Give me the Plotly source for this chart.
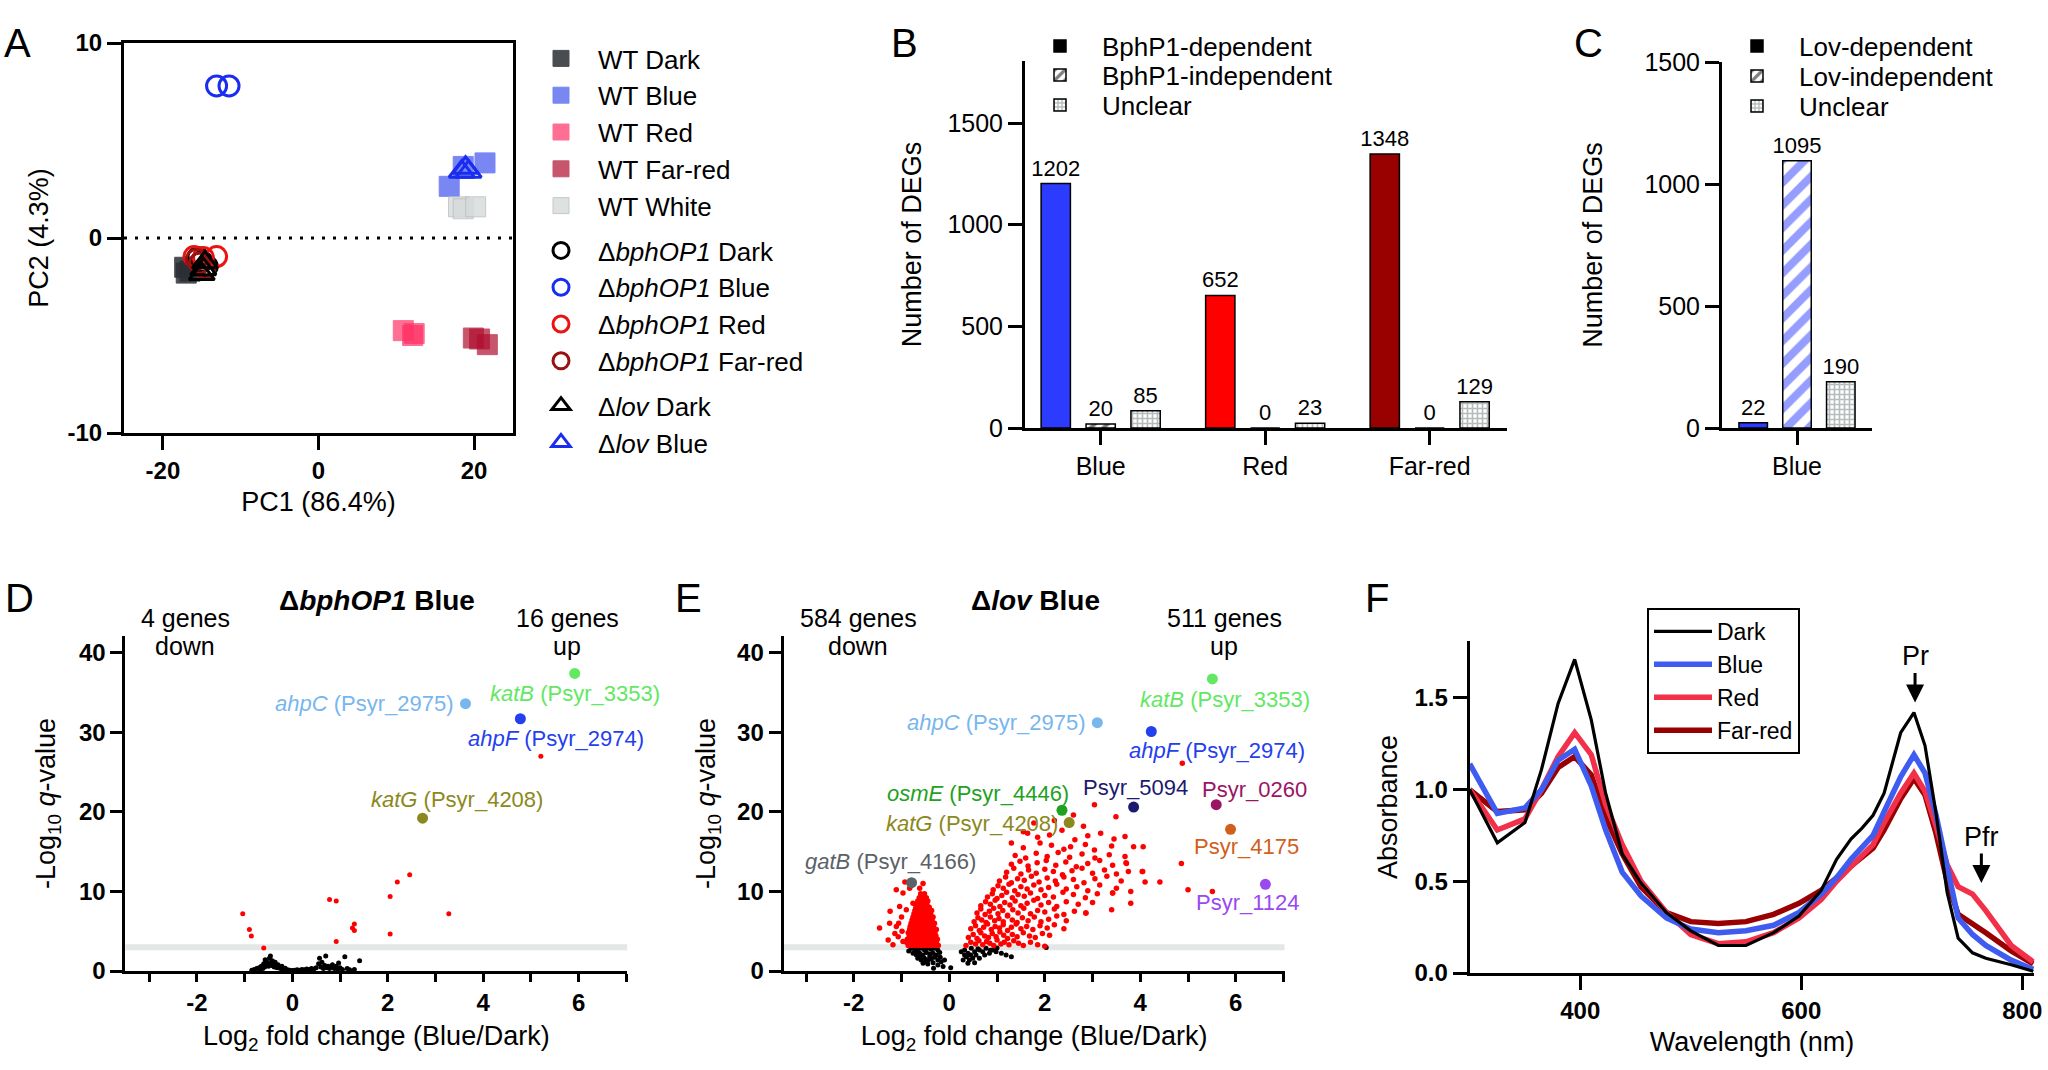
import plotly.graph_objects as go

W, H = 2048, 1070
FONT = "Liberation Sans, Arial, Helvetica, sans-serif"


def fx(p):
    return p / W


def fy(p):
    return 1 - p / H


# ---------------- Panel A : PCA ----------------
WT_DARK_X = [-17.2, -17.0, -16.5]
WT_DARK_Y = [-1.5, -1.8, -1.7]
WT_BLUE_X = [16.8, 18.6, 21.4]
WT_BLUE_Y = [2.65, 3.67, 3.85]
WT_RED_X = [10.9, 12.1, 12.3]
WT_RED_Y = [-4.75, -5.0, -4.9]
WT_FARRED_X = [19.9, 20.7, 21.7]
WT_FARRED_Y = [-5.13, -5.18, -5.47]
WT_WHITE_X = [18.0, 18.6, 20.2]
WT_WHITE_Y = [1.6, 1.5, 1.6]
BPH_DARK_X = [-15.5, -15.0, -14.3]
BPH_DARK_Y = [-1.0, -1.2, -1.45]
BPH_BLUE_X = [-13.1, -11.5]
BPH_BLUE_Y = [7.8, 7.8]
BPH_RED_X = [-16.0, -14.8, -13.1]
BPH_RED_Y = [-0.95, -1.0, -0.95]
BPH_FARRED_X = [-15.3, -14.6, -15.7]
BPH_FARRED_Y = [-1.3, -1.55, -1.1]
LOV_DARK_X = [-15.0, -14.8, -14.6]
LOV_DARK_Y = [-1.85, -1.6, -1.25]
LOV_BLUE_X = [18.4, 18.9, 19.3]
LOV_BLUE_Y = [3.4, 3.6, 3.4]
A_XTICKS = [-20, 0, 20]
A_XTICKTEXT = ["-20", "0", "20"]
A_YTICKS = [-10, 0, 10]
A_YTICKTEXT = ["-10", "0", "10"]

# ---------------- Panel B / C : DEG counts ----------------
B_CATS = ["Blue", "Red", "Far-red"]
B_DEP = [1202, 652, 1348]
B_IND = [20, 0, 0]
B_UNC = [85, 23, 129]
B_DEP_COLORS = ["#2b3cff", "#ff0000", "#990000"]
C_CATS = ["Blue"]
C_DEP = [22]
C_IND = [1095]
C_UNC = [190]

# ---------------- Panel D : ΔbphOP1 volcano ----------------
D_BLACK_X = [-0.85, -0.8, -0.75, -0.7, -0.68, -0.65, -0.62, -0.6, -0.58, -0.57, -0.55, -0.53, -0.5,
             -0.48, -0.46, -0.45, -0.43, -0.42, -0.4, -0.38, -0.36, -0.34, -0.32, -0.3, -0.28, -0.25,
             -0.22, -0.2, -0.15, -0.1, -0.05, 0.0, 0.05, 0.1, 0.15, 0.2, 0.25, 0.3, 0.35, 0.4, 0.45,
             0.5, 0.55, 0.57, 0.6, 0.62, 0.65, 0.68, 0.7, 0.72, 0.75, 0.78, 0.8, 0.84, 0.88, 0.92,
             0.95, 0.97, 1.0, 1.05, 1.1, 1.15, 1.2, 1.3, 1.41]
D_BLACK_Y = [0.1, 0.2, 0.3, 0.4, 0.2, 0.6, 0.3, 0.9, 0.5, 1.4, 0.8, 1.1, 0.6,
             1.6, 1.9, 1.0, 0.7, 1.3, 0.9, 0.5, 1.1, 0.7, 0.4, 0.8, 0.5, 0.3,
             0.6, 0.2, 0.35, 0.15, 0.1, 0.05, 0.1, 0.15, 0.1, 0.2, 0.15, 0.25, 0.2, 0.3, 0.25,
             0.4, 0.9, 1.6, 0.5, 1.1, 0.3, 0.7, 1.9, 0.4, 0.6, 0.3, 0.5, 0.8, 0.3, 0.6,
             0.2, 1.0, 0.4, 0.2, 1.8, 0.3, 0.15, 0.2, 1.3]
D_RED_X = [5.21, 2.46, 2.2, 2.05, 0.78, 0.92, 3.28, 1.3, 1.26, 1.3, 2.05, 0.92, -1.04, -0.9, -0.86, -0.6]
D_RED_Y = [27.0, 12.1, 11.2, 9.35, 9.0, 8.8, 7.2, 5.9, 5.4, 5.1, 4.65, 3.7, 7.2, 5.2, 4.4, 2.9]
D_HI_NAMES = ["katB", "ahpC", "ahpF", "katG"]
D_HI_X = [5.92, 3.63, 4.78, 2.73]
D_HI_Y = [37.4, 33.6, 31.7, 19.2]
D_LAB_TEXT = ["<i>katB</i> (Psyr_3353)", "<i>ahpC</i> (Psyr_2975)", "<i>ahpF</i> (Psyr_2974)",
              "<i>katG</i> (Psyr_4208)"]
D_LAB_X = [4.1, 3.44, 5.52, 3.45]
D_LAB_Y = [34.9, 33.6, 29.2, 21.6]
D_LAB_ANCHOR = ["left", "right", "center", "center"]
VOLC_XTICKS = [-2, 0, 2, 4, 6]
VOLC_XTICKTEXT = ["-2", "0", "2", "4", "6"]

# ---------------- Panel E : Δlov volcano ----------------
E_BLACK_X = [-0.79, -0.72, -0.66, -0.59, -0.52, -0.45, -0.38, -0.31, -0.24, -0.76, -0.69, -0.62, -0.55,
             -0.48, -0.41, -0.34, -0.27, -0.20, -0.66, -0.59, -0.52, -0.45, -0.38, -0.31, -0.24, -0.55,
             -0.45, -0.34, -0.24, -0.17, -0.13, -0.41, -0.62, -0.70, -0.10, -0.19, -0.33, -0.85, -0.80,
             -0.50,
             0.25, 0.32, 0.39, 0.46, 0.53, 0.36, 0.42, 0.49, 0.56, 0.63, 0.70, 0.77, 0.84, 0.91, 0.98,
             1.09, 1.19, 1.30, 0.29, 0.39, 0.53, 0.63, 0.32, 0.45, 0.60, 0.74, 0.86, 1.00, 0.03, 2.03]
E_BLACK_Y = [2.85, 2.64, 2.73, 2.85, 2.64, 2.85, 2.73, 2.85, 2.64, 2.22, 2.01, 2.22, 2.01,
             2.31, 2.14, 2.22, 2.01, 2.31, 1.59, 1.38, 1.59, 1.38, 1.47, 1.72, 1.38, 0.96,
             0.88, 1.05, 0.75, 1.17, 0.55, 1.80, 1.72, 2.43, 1.38, 1.72, 0.34, 2.5, 2.9,
             1.2,
             2.43, 2.64, 2.22, 2.85, 2.43, 1.80, 1.38, 1.59, 2.01, 2.64, 2.43, 2.85, 2.22, 2.64, 2.43,
             2.22, 2.01, 1.80, 1.38, 0.96, 1.05, 1.59, 2.01, 2.0, 2.8, 2.0, 2.6, 2.9, 0.4, 2.95]
E_DOWN_ROWS = [
    (3.2, [-0.86, -0.79, -0.72, -0.65, -0.58, -0.51, -0.44, -0.37, -0.30, -0.23]),
    (3.6, [-0.90, -0.83, -0.76, -0.69, -0.62, -0.55, -0.48, -0.41, -0.34, -0.27]),
    (4.0, [-0.88, -0.81, -0.74, -0.67, -0.60, -0.53, -0.46, -0.39, -0.32, -0.25]),
    (4.4, [-0.84, -0.77, -0.70, -0.63, -0.56, -0.49, -0.42, -0.35, -0.28]),
    (4.8, [-0.86, -0.79, -0.72, -0.65, -0.58, -0.51, -0.44, -0.37, -0.30]),
    (5.2, [-0.83, -0.76, -0.69, -0.62, -0.55, -0.48, -0.41, -0.34, -0.27]),
    (5.6, [-0.82, -0.75, -0.68, -0.61, -0.54, -0.47, -0.40, -0.33]),
    (6.0, [-0.80, -0.73, -0.66, -0.59, -0.52, -0.45, -0.38, -0.31]),
    (6.4, [-0.78, -0.71, -0.64, -0.57, -0.50, -0.43, -0.36]),
    (6.8, [-0.76, -0.69, -0.62, -0.55, -0.48, -0.41, -0.34]),
    (7.2, [-0.74, -0.67, -0.60, -0.53, -0.46, -0.39]),
    (7.6, [-0.72, -0.65, -0.58, -0.51, -0.44, -0.37]),
    (8.0, [-0.70, -0.63, -0.56, -0.49, -0.42]),
    (8.4, [-0.68, -0.61, -0.54, -0.47]),
    (8.8, [-0.66, -0.59, -0.52, -0.45]),
    (9.2, [-0.63, -0.55, -0.48]),
    (9.7, [-0.60, -0.52]),
]
E_DOWN_OUT_X = [-1.46, -1.25, -1.14, -1.28, -1.07, -1.04, -0.97, -0.93, -0.83, -0.55, -0.76, -0.90,
                -1.00, -1.11, -0.97, -0.62, -1.24, -1.11, -1.06, -0.99, -1.18]
E_DOWN_OUT_Y = [5.4, 6.0, 4.7, 3.9, 4.3, 8.1, 9.8, 11.2, 10.4, 11.0, 8.5, 7.7,
                6.8, 5.6, 3.7, 10.4, 7.5, 10.2, 6.0, 5.0, 3.3]
E_UP_X = [0.35, 0.45, 0.55, 0.62, 0.70, 0.78, 0.85, 0.93, 1.00, 1.08, 1.15, 1.25, 1.35, 1.45, 1.55, 1.70, 1.85, 2.00,
          0.40, 0.50, 0.58, 0.66, 0.74, 0.82, 0.90, 0.98, 1.06, 1.14, 1.22, 1.32, 1.42, 1.55, 1.68, 1.80, 1.95, 2.10,
          0.45, 0.55, 0.63, 0.72, 0.80, 0.88, 0.96, 1.05, 1.13, 1.22, 1.30, 1.40, 1.50, 1.62, 1.75, 1.90, 2.05, 2.20, 2.40,
          0.52, 0.60, 0.68, 0.77, 0.86, 0.95, 1.04, 1.13, 1.22, 1.32, 1.42, 1.53, 1.65, 1.78, 1.92, 2.08, 2.25, 2.45,
          0.58, 0.66, 0.75, 0.84, 0.93, 1.02, 1.12, 1.22, 1.33, 1.44, 1.56, 1.70, 1.85, 2.00, 2.20, 2.40, 2.62, 2.86,
          0.66, 0.76, 0.86, 0.96, 1.06, 1.16, 1.27, 1.38, 1.50, 1.63, 1.77, 1.92, 2.08, 2.25, 2.45, 2.70, 3.00,
          0.80, 0.90, 1.00, 1.10, 1.20, 1.32, 1.44, 1.57, 1.70, 1.85, 2.00, 2.18, 2.38, 2.60, 2.85, 3.10, 3.42,
          0.92, 1.02, 1.13, 1.25, 1.37, 1.50, 1.63, 1.77, 1.92, 2.08, 2.25, 2.45, 2.67, 2.90, 3.15, 3.50, 3.80,
          1.05, 1.18, 1.30, 1.43, 1.57, 1.72, 1.88, 2.05, 2.22, 2.40, 2.60, 2.82, 3.05, 3.30, 3.60, 4.10,
          1.20, 1.35, 1.50, 1.66, 1.82, 2.00, 2.18, 2.37, 2.57, 2.78, 3.00, 3.25, 3.50, 3.75, 4.05,
          1.30, 1.48, 1.65, 1.84, 2.03, 2.23, 2.44, 2.66, 2.90, 3.15, 3.42, 3.70, 4.86,
          1.38, 1.60, 1.82, 2.05, 2.28, 2.52, 2.78, 3.05, 3.35, 3.68,
          1.30, 1.55, 1.90, 2.14, 2.40, 2.54, 2.85, 3.04, 3.40, 3.86, 4.06,
          1.55, 1.64, 1.85, 2.10, 2.36, 2.63, 2.90, 3.17, 3.45, 3.68,
          1.77, 2.20, 2.81, 3.04, 3.49, 2.60,
          4.88, 4.41, 5.00, 5.51, 4.04, 3.80, 3.40, 3.71, 3.42, 2.86]
E_UP_Y = [3.2, 3.6, 3.4, 3.8, 3.3, 3.7, 3.5, 3.2, 3.9, 3.4, 3.6, 3.3, 3.8, 3.5, 3.2, 3.6, 3.3, 3.1,
          4.2, 4.6, 4.1, 4.8, 4.4, 4.2, 4.7, 4.3, 4.9, 4.5, 4.1, 4.6, 4.3, 4.8, 4.4, 4.2, 4.7, 4.5,
          5.3, 5.7, 5.1, 5.5, 5.9, 5.2, 5.6, 5.4, 5.8, 5.1, 5.5, 5.9, 5.3, 5.6, 5.2, 5.7, 5.4, 5.8, 5.3,
          6.2, 6.7, 6.4, 6.1, 6.8, 6.3, 6.6, 6.2, 6.9, 6.4, 6.1, 6.7, 6.3, 6.8, 6.2, 6.5, 6.9, 6.3,
          7.3, 7.8, 7.1, 7.5, 7.9, 7.2, 7.6, 7.0, 7.7, 7.3, 7.9, 7.2, 7.6, 7.4, 7.8, 7.1, 7.5, 7.3,
          8.2, 8.7, 8.4, 8.9, 8.1, 8.6, 8.3, 8.8, 8.2, 8.5, 8.9, 8.3, 8.6, 8.1, 8.7, 8.4, 8.6,
          9.3, 9.7, 9.1, 9.5, 9.9, 9.2, 9.6, 9.4, 9.8, 9.1, 9.5, 9.3, 9.9, 9.6, 9.2, 9.7, 9.8,
          10.2, 10.7, 10.4, 10.9, 10.1, 10.6, 10.3, 10.8, 10.2, 10.5, 10.9, 10.3, 10.6, 10.1, 10.8, 10.4, 10.0,
          11.3, 11.8, 11.1, 11.6, 11.4, 11.9, 11.2, 11.7, 11.3, 11.8, 11.5, 11.1, 11.6, 11.9, 11.3, 11.2,
          12.4, 12.9, 12.2, 12.7, 12.3, 12.8, 12.5, 12.1, 12.6, 12.9, 12.3, 12.7, 12.2, 12.5, 12.5,
          13.4, 13.8, 13.2, 13.6, 13.9, 13.3, 13.7, 13.1, 13.5, 13.9, 13.3, 13.6, 13.5,
          14.5, 14.2, 14.8, 14.4, 14.9, 14.3, 14.7, 14.2, 14.6, 14.4,
          16.1, 15.5, 16.1, 15.8, 15.3, 15.6, 15.9, 15.2, 15.7, 15.6, 15.6,
          17.5, 17.3, 16.8, 17.1, 17.7, 16.5, 17.0, 17.3, 16.6, 16.9,
          18.6, 18.9, 18.2, 20.9, 19.4, 19.6,
          26.1, 11.2, 10.2, 10.0, 12.5, 8.5, 7.7, 13.5, 9.8, 7.3]
E_HI_NAMES = ["katB", "ahpC", "ahpF", "Psyr_5094", "Psyr_0260", "Psyr_4175", "Psyr_1124", "osmE", "katG", "gatB"]
E_HI_X = [5.51, 3.10, 4.23, 3.86, 5.59, 5.89, 6.62, 2.36, 2.51, -0.79]
E_HI_Y = [36.7, 31.2, 30.1, 20.6, 20.9, 17.8, 10.9, 20.2, 18.65, 11.1]
E_LAB_TEXT = ["<i>katB</i> (Psyr_3353)", "<i>ahpC</i> (Psyr_2975)", "<i>ahpF</i> (Psyr_2974)", "Psyr_5094",
              "Psyr_0260", "Psyr_4175", "Psyr_1124", "<i>osmE</i> (Psyr_4446)", "<i>katG</i> (Psyr_4208)",
              "<i>gatB</i> (Psyr_4166)"]
E_LAB_X = [5.78, 2.90, 5.60, 3.90, 6.39, 6.23, 6.25, 0.61, 0.47, -1.24]
E_LAB_Y = [34.1, 31.2, 27.7, 23.0, 22.85, 15.6, 8.6, 22.35, 18.6, 13.75]
E_LAB_ANCHOR = ["center", "right", "center", "center", "center", "center", "center", "center", "center", "center"]

GENE_COLORS = {"katB": "#62e862", "ahpC": "#78b6ee", "ahpF": "#2440ee", "katG": "#8c8820",
               "osmE": "#1fa21f", "gatB": "#5b6168", "Psyr_5094": "#1c1a70", "Psyr_0260": "#9c1464",
               "Psyr_4175": "#d0601c", "Psyr_1124": "#9a48f0"}

# ---------------- Panel F : spectra ----------------
WL = [300, 325, 350, 365, 380, 395, 410, 423, 438, 455, 478, 500, 525, 550, 575, 598, 618, 632, 645, 655,
      665, 675, 690, 702, 712, 722, 732, 742, 755, 767, 790, 810]
ABS_DARK = [1.00, 0.71, 0.82, 1.11, 1.47, 1.71, 1.38, 0.98, 0.65, 0.49, 0.33, 0.23, 0.15, 0.15, 0.22, 0.31,
            0.45, 0.62, 0.73, 0.79, 0.86, 0.98, 1.31, 1.42, 1.24, 0.87, 0.44, 0.19, 0.11, 0.08, 0.045, 0.01]
ABS_BLUE = [1.14, 0.87, 0.90, 1.00, 1.16, 1.22, 1.02, 0.78, 0.55, 0.42, 0.30, 0.24, 0.22, 0.23, 0.26, 0.33,
            0.43, 0.52, 0.62, 0.68, 0.75, 0.88, 1.07, 1.19, 1.09, 0.86, 0.57, 0.30, 0.21, 0.15, 0.07, 0.02]
ABS_RED = [1.00, 0.78, 0.84, 1.00, 1.18, 1.31, 1.19, 0.92, 0.70, 0.50, 0.33, 0.21, 0.16, 0.17, 0.22, 0.30,
           0.40, 0.50, 0.58, 0.64, 0.70, 0.82, 0.98, 1.09, 0.99, 0.80, 0.59, 0.47, 0.43, 0.34, 0.15, 0.06]
ABS_FARRED = [1.00, 0.88, 0.89, 0.98, 1.12, 1.18, 1.08, 0.85, 0.65, 0.47, 0.33, 0.28, 0.27, 0.28, 0.32, 0.38,
              0.45, 0.52, 0.58, 0.63, 0.68, 0.78, 0.95, 1.06, 0.97, 0.76, 0.50, 0.32, 0.27, 0.22, 0.12, 0.05]

fig = go.Figure()

# ---- A traces ----
A_STYLE = [
    ("WT Dark", WT_DARK_X, WT_DARK_Y, "square", "#2a2f35", 0.85, "wt"),
    ("WT Blue", WT_BLUE_X, WT_BLUE_Y, "square", "#4d5ff0", 0.75, "wt"),
    ("WT Red", WT_RED_X, WT_RED_Y, "square", "#ff3366", 0.7, "wt"),
    ("WT Far-red", WT_FARRED_X, WT_FARRED_Y, "square", "#b01030", 0.7, "wt"),
    ("WT White", WT_WHITE_X, WT_WHITE_Y, "square", "#d6dada", 0.8, "wt"),
    ("Δ<i>bphOP1</i> Dark", BPH_DARK_X, BPH_DARK_Y, "circle-open", "#000000", 1, "bph"),
    ("Δ<i>bphOP1</i> Blue", BPH_BLUE_X, BPH_BLUE_Y, "circle-open", "#1a2cf0", 1, "bph"),
    ("Δ<i>bphOP1</i> Red", BPH_RED_X, BPH_RED_Y, "circle-open", "#ee1111", 1, "bph"),
    ("Δ<i>bphOP1</i> Far-red", BPH_FARRED_X, BPH_FARRED_Y, "circle-open", "#991111", 1, "bph"),
    ("Δ<i>lov</i> Dark", LOV_DARK_X, LOV_DARK_Y, "triangle-up-open", "#000000", 1, "lov"),
    ("Δ<i>lov</i> Blue", LOV_BLUE_X, LOV_BLUE_Y, "triangle-up-open", "#1a2cf0", 1, "lov"),
]
for name, xs, ys, sym, col, op, grp in A_STYLE:
    if sym == "square":
        mk = dict(symbol=sym, size=20, color=col, opacity=op,
                  line=dict(color="#b8bcbc" if name == "WT White" else col, width=1))
    else:
        mk = dict(symbol=sym, size=20 if "circle" in sym else 22, color=col, line=dict(color=col, width=3))
    fig.add_trace(go.Scatter(x=xs, y=ys, mode="markers", name=name, marker=mk, legendgroup=grp,
                             legend="legend", xaxis="x", yaxis="y", cliponaxis=False))

# ---- B traces ----
BAR_LINE = dict(color="black", width=1.5)
IND_PAT = dict(shape="/", fgcolor="black", bgcolor="white", size=9, solidity=0.45)
UNC_PAT = dict(shape="+", fgcolor="#6e7777", bgcolor="white", size=5, solidity=0.55)
TXT = dict(family=FONT, size=22, color="black")
BAR_COMMON = dict(textposition="outside", textfont=TXT, cliponaxis=False, constraintext="none")

fig.add_trace(go.Bar(x=B_CATS, y=B_DEP, marker=dict(color=B_DEP_COLORS, line=BAR_LINE), width=0.178,
                     offset=-0.362, text=B_DEP, showlegend=False, xaxis="x2", yaxis="y2",
                     offsetgroup="dep", **BAR_COMMON))
fig.add_trace(go.Bar(x=B_CATS, y=B_IND, marker=dict(color="white", pattern=IND_PAT, line=BAR_LINE),
                     width=0.178, offset=-0.089, text=B_IND, showlegend=False, xaxis="x2", yaxis="y2",
                     offsetgroup="ind", **BAR_COMMON))
fig.add_trace(go.Bar(x=B_CATS, y=B_UNC, marker=dict(color="white", pattern=UNC_PAT, line=BAR_LINE),
                     width=0.178, offset=0.184, text=B_UNC, showlegend=False, xaxis="x2", yaxis="y2",
                     offsetgroup="unc", **BAR_COMMON))

# ---- C traces ----
fig.add_trace(go.Bar(x=C_CATS, y=C_DEP, marker=dict(color="#2b3cff", line=BAR_LINE), width=0.19,
                     offset=-0.387, text=C_DEP, showlegend=False, xaxis="x3", yaxis="y3",
                     offsetgroup="dep", **BAR_COMMON))
fig.add_trace(go.Bar(x=C_CATS, y=C_IND,
                     marker=dict(color="white", pattern=dict(shape="/", fgcolor="#2b3cff", bgcolor="white",
                                                             size=16, solidity=0.5), line=BAR_LINE),
                     width=0.19, offset=-0.095, text=C_IND, showlegend=False, xaxis="x3", yaxis="y3",
                     offsetgroup="ind", **BAR_COMMON))
fig.add_trace(go.Bar(x=C_CATS, y=C_UNC, marker=dict(color="white", pattern=UNC_PAT, line=BAR_LINE),
                     width=0.19, offset=0.197, text=C_UNC, showlegend=False, xaxis="x3", yaxis="y3",
                     offsetgroup="unc", **BAR_COMMON))

# legend-only entries for B and C (one legend each so rows can be placed like the original)
LEG_ITEMS = [
    ("BphP1-dependent", dict(color="black", line=BAR_LINE), "legend2", "x2", "y2", "dep"),
    ("BphP1-independent", dict(color="white", pattern=IND_PAT, line=BAR_LINE), "legend3", "x2", "y2", "ind"),
    ("Unclear", dict(color="white", pattern=UNC_PAT, line=BAR_LINE), "legend4", "x2", "y2", "unc"),
    ("Lov-dependent", dict(color="black", line=BAR_LINE), "legend5", "x3", "y3", "dep"),
    ("Lov-independent", dict(color="white", pattern=IND_PAT, line=BAR_LINE), "legend6", "x3", "y3", "ind"),
    ("Unclear", dict(color="white", pattern=UNC_PAT, line=BAR_LINE), "legend7", "x3", "y3", "unc"),
]
for name, mk, leg, xa, ya, og in LEG_ITEMS:
    fig.add_trace(go.Bar(x=[None], y=[None], name=name, marker=mk, legend=leg, xaxis=xa, yaxis=ya,
                         offsetgroup=og))

# ---- D traces ----
fig.add_trace(go.Scatter(x=D_BLACK_X, y=D_BLACK_Y, mode="markers", marker=dict(color="black", size=5),
                         showlegend=False, xaxis="x4", yaxis="y4", cliponaxis=False))
fig.add_trace(go.Scatter(x=D_RED_X, y=D_RED_Y, mode="markers", marker=dict(color="#ff0000", size=5),
                         showlegend=False, xaxis="x4", yaxis="y4", cliponaxis=False))
fig.add_trace(go.Scatter(x=D_HI_X, y=D_HI_Y, mode="markers",
                         marker=dict(color=[GENE_COLORS[n] for n in D_HI_NAMES], size=11),
                         showlegend=False, xaxis="x4", yaxis="y4", cliponaxis=False))

# ---- E traces ----
e_down_x = [x for yv, xs in E_DOWN_ROWS for x in xs] + E_DOWN_OUT_X
e_down_y = [yv for yv, xs in E_DOWN_ROWS for x in xs] + E_DOWN_OUT_Y
fig.add_trace(go.Scatter(x=E_BLACK_X, y=E_BLACK_Y, mode="markers", marker=dict(color="black", size=5),
                         showlegend=False, xaxis="x5", yaxis="y5", cliponaxis=False))
fig.add_trace(go.Scatter(x=e_down_x + E_UP_X, y=e_down_y + E_UP_Y, mode="markers",
                         marker=dict(color="#ff0000", size=5.5),
                         showlegend=False, xaxis="x5", yaxis="y5", cliponaxis=False))
fig.add_trace(go.Scatter(x=E_HI_X, y=E_HI_Y, mode="markers",
                         marker=dict(color=[GENE_COLORS[n] for n in E_HI_NAMES], size=11),
                         showlegend=False, xaxis="x5", yaxis="y5", cliponaxis=False))

# ---- F traces ----
F_STYLE = [("Far-red", ABS_FARRED, "#990000", 5.5), ("Red", ABS_RED, "#f2304a", 5.5),
           ("Blue", ABS_BLUE, "#3f5cf0", 5.5), ("Dark", ABS_DARK, "#000000", 3.2)]
for name, ys, col, wd in F_STYLE:
    fig.add_trace(go.Scatter(x=WL, y=ys, mode="lines", name=name, line=dict(color=col, width=wd),
                             legend="legend8", xaxis="x6", yaxis="y6"))


# ---- axes ----
def ax(**kw):
    d = dict(showline=True, linecolor="black", linewidth=3, ticks="outside", tickcolor="black",
             tickwidth=3, showgrid=False, zeroline=False, fixedrange=True,
             tickfont=dict(family=FONT, size=24, color="black", weight="bold"),
             title_font=dict(family=FONT, size=27, color="black"))
    d.update(kw)
    return d


REG = dict(family=FONT, size=25, color="black")
MINOR = dict(dtick=1, tick0=0, ticks="outside", ticklen=8, tickwidth=3, tickcolor="black")

fig.update_layout(
    xaxis=ax(domain=[fx(124), fx(513)], range=[-25, 25], tickvals=A_XTICKS, ticktext=A_XTICKTEXT,
             ticklen=14, mirror=True, anchor="y", title=dict(text="PC1 (86.4%)", standoff=10)),
    yaxis=ax(domain=[fy(433), fy(43)], range=[-10, 10], tickvals=A_YTICKS, ticktext=A_YTICKTEXT,
             ticklen=14, mirror=True, anchor="x", title=dict(text="PC2 (4.3%)", standoff=12)),
    xaxis2=ax(domain=[fx(1025), fx(1507)], type="category", range=[-0.46, 2.47], ticklen=14,
              anchor="y2", tickfont=REG),
    yaxis2=ax(domain=[fy(428), fy(61)], range=[0, 1805], tickvals=[0, 500, 1000, 1500], ticklen=14,
              anchor="x2", tickfont=REG, title=dict(text="Number of DEGs", standoff=18)),
    xaxis3=ax(domain=[fx(1722), fx(1872)], type="category", range=[-0.5, 0.5], ticklen=14,
              anchor="y3", tickfont=REG),
    yaxis3=ax(domain=[fy(428), fy(62)], range=[0, 1500], tickvals=[0, 500, 1000, 1500], ticklen=14,
              anchor="x3", tickfont=REG, title=dict(text="Number of DEGs", standoff=34)),
    xaxis4=ax(domain=[fx(125.4), fx(627.2)], range=[-3.5, 7.02], tickvals=VOLC_XTICKS, ticktext=VOLC_XTICKTEXT,
              ticklen=8, minor=MINOR, anchor="y4",
              title=dict(text="Log<sub>2</sub> fold change (Blue/Dark)", standoff=12)),
    yaxis4=ax(domain=[fy(971), fy(636)], range=[0, 42.1], tickvals=[0, 10, 20, 30, 40], ticklen=12,
              anchor="x4", title=dict(text="-Log<sub>10</sub> <i>q</i>-value", standoff=16)),
    xaxis5=ax(domain=[fx(783.6), fx(1284.5)], range=[-3.47, 7.02], tickvals=VOLC_XTICKS, ticktext=VOLC_XTICKTEXT,
              ticklen=8, minor=MINOR, anchor="y5",
              title=dict(text="Log<sub>2</sub> fold change (Blue/Dark)", standoff=12)),
    yaxis5=ax(domain=[fy(971), fy(636)], range=[0, 42.1], tickvals=[0, 10, 20, 30, 40], ticklen=12,
              anchor="x5", title=dict(text="-Log<sub>10</sub> <i>q</i>-value", standoff=14)),
    xaxis6=ax(domain=[fx(1469.7), fx(2034.4)], range=[300, 811], tickvals=[400, 600, 800], ticklen=14,
              anchor="y6", title=dict(text="Wavelength (nm)", standoff=10)),
    yaxis6=ax(domain=[fy(973), fy(641)], range=[0, 1.81], tickvals=[0, 0.5, 1.0, 1.5], tickformat=".1f",
              ticklen=14, anchor="x6", title=dict(text="Absorbance", standoff=10)),
)

LEG_BASE = dict(bgcolor="rgba(0,0,0,0)", xanchor="left", itemclick=False, itemdoubleclick=False)
BC_FONT = dict(family=FONT, size=26, color="black")
legends = dict(
    legend=dict(LEG_BASE, x=fx(524), y=fy(35), yanchor="top", font=dict(family=FONT, size=26, color="black"),
                itemwidth=64, tracegroupgap=8, traceorder="grouped"),
    legend8=dict(LEG_BASE, x=fx(1647), y=fy(608), yanchor="top", font=dict(family=FONT, size=23, color="black"),
                 itemwidth=58, traceorder="reversed", bgcolor="white", bordercolor="black", borderwidth=2),
)
for key, px_x, px_y in (("legend2", 1018, 46), ("legend3", 1018, 75), ("legend4", 1018, 105),
                        ("legend5", 1715, 46), ("legend6", 1715, 76), ("legend7", 1715, 106)):
    legends[key] = dict(LEG_BASE, x=fx(px_x), y=fy(px_y), yanchor="middle", font=BC_FONT, itemwidth=74)
fig.update_layout(**legends)

# ---- reference lines ----
fig.add_shape(type="line", xref="x domain", yref="y", x0=0, x1=1, y0=0, y1=0,
              line=dict(color="black", width=3, dash="3px,8px"))
for xr, yr in (("x4 domain", "y4"), ("x5 domain", "y5")):
    fig.add_shape(type="line", xref=xr, yref=yr, x0=0, x1=1, y0=3, y1=3, layer="below",
                  line=dict(color="#e4e7e7", width=6))

# ---- annotations ----
ann = []


def note(text, x, y, size, xref="paper", yref="paper", xanchor="center", color="black", **kw):
    d = dict(text=text, x=x, y=y, xref=xref, yref=yref, showarrow=False, xanchor=xanchor, yanchor="middle",
             font=dict(family=FONT, size=size, color=color))
    d.update(kw)
    ann.append(d)


for letter, px_, py_ in (("A", 17, 43), ("B", 904, 43), ("C", 1588, 43), ("D", 19, 598),
                         ("E", 688, 598), ("F", 1377, 598)):
    note(letter, fx(px_), fy(py_), 40)
note("<b>Δ<i>bphOP1</i> Blue</b>", fx(377), fy(600), 28)
note("<b>Δ<i>lov</i> Blue</b>", fx(1035), fy(600), 28)
for txt, px_, py_ in (("4 genes", 185, 618), ("down", 185, 646), ("16 genes", 567, 618), ("up", 567, 646),
                      ("584 genes", 858, 618), ("down", 858, 646), ("511 genes", 1224, 618),
                      ("up", 1224, 646)):
    note(txt, fx(px_), fy(py_), 25)
for i, txt in enumerate(D_LAB_TEXT):
    note(txt, D_LAB_X[i], D_LAB_Y[i], 22, xref="x4", yref="y4", xanchor=D_LAB_ANCHOR[i],
         color=GENE_COLORS[D_HI_NAMES[i]])
for i, txt in enumerate(E_LAB_TEXT):
    note(txt, E_LAB_X[i], E_LAB_Y[i], 22, xref="x5", yref="y5", xanchor=E_LAB_ANCHOR[i],
         color=GENE_COLORS[E_HI_NAMES[i]])
ann.append(dict(text="Pr", x=703, y=1.475, xref="x6", yref="y6", showarrow=True, ax=0, ay=-46,
                arrowhead=2, arrowsize=1.2, arrowwidth=3, arrowcolor="black",
                font=dict(family=FONT, size=27, color="black")))
ann.append(dict(text="Pfr", x=763, y=0.49, xref="x6", yref="y6", showarrow=True, ax=0, ay=-46,
                arrowhead=2, arrowsize=1.2, arrowwidth=3, arrowcolor="black",
                font=dict(family=FONT, size=27, color="black")))

fig.update_layout(
    width=W, height=H, margin=dict(l=0, r=0, t=0, b=0, autoexpand=False),
    paper_bgcolor="white", plot_bgcolor="white",
    font=dict(family=FONT, color="black"),
    barmode="overlay", showlegend=True, annotations=ann,
)

fig.write_html("out.html", include_plotlyjs=True, config={"displayModeBar": False},
               post_script="document.body.style.margin='0';document.body.style.overflow='hidden';")
